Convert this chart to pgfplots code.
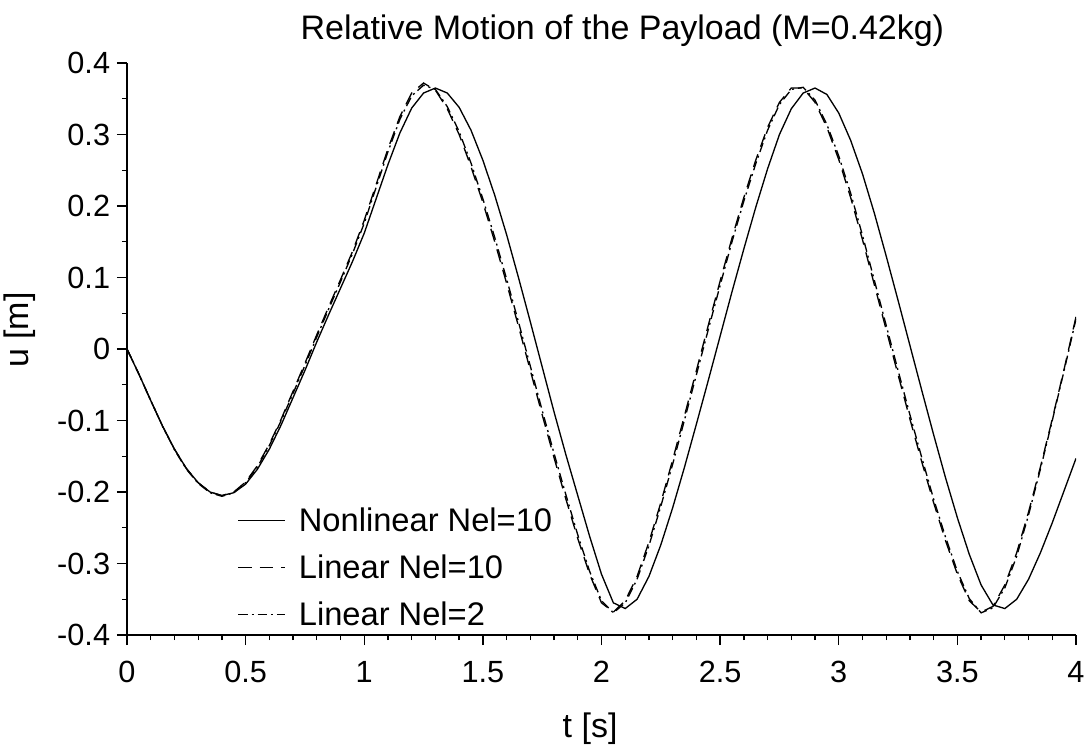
\documentclass[border=0pt]{standalone}
\usepackage{fontspec}
\setmainfont{Liberation Sans}
\usepackage{pgfplots}
\pgfplotsset{compat=1.18}

% nonlinear model, 10 elements
\pgfplotstableread{
t u
0.00 0.000
0.05 -0.035
0.10 -0.072
0.15 -0.108
0.20 -0.140
0.25 -0.167
0.30 -0.187
0.35 -0.200
0.40 -0.205
0.45 -0.201
0.50 -0.189
0.55 -0.168
0.60 -0.140
0.65 -0.106
0.70 -0.068
0.75 -0.030
0.80 0.010
0.85 0.048
0.90 0.085
0.95 0.122
1.00 0.162
1.05 0.210
1.10 0.258
1.15 0.302
1.20 0.337
1.25 0.358
1.30 0.365
1.35 0.358
1.40 0.338
1.45 0.306
1.50 0.264
1.55 0.215
1.60 0.160
1.65 0.100
1.70 0.038
1.75 -0.025
1.80 -0.088
1.85 -0.148
1.90 -0.205
1.95 -0.262
2.00 -0.315
2.05 -0.355
2.10 -0.363
2.15 -0.350
2.20 -0.318
2.25 -0.274
2.30 -0.222
2.35 -0.165
2.40 -0.105
2.45 -0.044
2.50 0.018
2.55 0.080
2.60 0.140
2.65 0.198
2.70 0.252
2.75 0.300
2.80 0.336
2.85 0.358
2.90 0.365
2.95 0.356
3.00 0.330
3.05 0.292
3.10 0.245
3.15 0.190
3.20 0.130
3.25 0.068
3.30 0.005
3.35 -0.058
3.40 -0.120
3.45 -0.180
3.50 -0.236
3.55 -0.287
3.60 -0.330
3.65 -0.358
3.70 -0.363
3.75 -0.350
3.80 -0.322
3.85 -0.285
3.90 -0.243
3.95 -0.198
4.00 -0.153
}\nonlinten

% linear model, 10 elements
\pgfplotstableread{
t u
0.00 0.000
0.05 -0.035
0.10 -0.072
0.15 -0.108
0.20 -0.140
0.25 -0.167
0.30 -0.187
0.35 -0.200
0.40 -0.205
0.45 -0.200
0.50 -0.186
0.55 -0.163
0.60 -0.133
0.65 -0.098
0.70 -0.059
0.75 -0.020
0.80 0.020
0.85 0.059
0.90 0.097
0.95 0.136
1.00 0.180
1.05 0.230
1.10 0.280
1.15 0.325
1.20 0.358
1.25 0.372
1.30 0.362
1.35 0.336
1.40 0.300
1.45 0.255
1.50 0.205
1.55 0.150
1.60 0.092
1.65 0.032
1.70 -0.030
1.75 -0.092
1.80 -0.152
1.85 -0.210
1.90 -0.265
1.95 -0.315
2.00 -0.355
2.05 -0.368
2.10 -0.352
2.15 -0.318
2.20 -0.270
2.25 -0.215
2.30 -0.155
2.35 -0.093
2.40 -0.030
2.45 0.033
2.50 0.095
2.55 0.155
2.60 0.212
2.65 0.264
2.70 0.310
2.75 0.345
2.80 0.365
2.85 0.365
2.90 0.345
2.95 0.310
3.00 0.265
3.05 0.212
3.10 0.153
3.15 0.090
3.20 0.027
3.25 -0.036
3.30 -0.098
3.35 -0.158
3.40 -0.215
3.45 -0.268
3.50 -0.315
3.55 -0.352
3.60 -0.368
3.65 -0.360
3.70 -0.330
3.75 -0.285
3.80 -0.228
3.85 -0.165
3.90 -0.098
3.95 -0.028
4.00 0.045
}\linten

% linear model, 2 elements
\pgfplotstableread{
t u
0.00 0.000
0.05 -0.035
0.10 -0.072
0.15 -0.108
0.20 -0.141
0.25 -0.168
0.30 -0.188
0.35 -0.201
0.40 -0.206
0.45 -0.201
0.50 -0.187
0.55 -0.165
0.60 -0.135
0.65 -0.100
0.70 -0.062
0.75 -0.023
0.80 0.017
0.85 0.056
0.90 0.094
0.95 0.133
1.00 0.176
1.05 0.226
1.10 0.276
1.15 0.321
1.20 0.354
1.25 0.369
1.30 0.363
1.35 0.339
1.40 0.304
1.45 0.260
1.50 0.210
1.55 0.156
1.60 0.098
1.65 0.038
1.70 -0.024
1.75 -0.086
1.80 -0.146
1.85 -0.204
1.90 -0.260
1.95 -0.311
2.00 -0.352
2.05 -0.369
2.10 -0.355
2.15 -0.322
2.20 -0.275
2.25 -0.220
2.30 -0.161
2.35 -0.099
2.40 -0.036
2.45 0.027
2.50 0.089
2.55 0.150
2.60 0.207
2.65 0.259
2.70 0.306
2.75 0.342
2.80 0.363
2.85 0.366
2.90 0.348
2.95 0.314
3.00 0.270
3.05 0.218
3.10 0.159
3.15 0.096
3.20 0.033
3.25 -0.030
3.30 -0.092
3.35 -0.152
3.40 -0.210
3.45 -0.263
3.50 -0.311
3.55 -0.349
3.60 -0.369
3.65 -0.362
3.70 -0.334
3.75 -0.290
3.80 -0.232
3.85 -0.168
3.90 -0.100
3.95 -0.030
4.00 0.042
}\lintwo

\begin{document}
\begin{tikzpicture}
\useasboundingbox (-95.25pt,-87pt) rectangle (721.5pt,476.25pt);
\begin{axis}[
  at={(0,0)}, anchor=south west,
  scale only axis, width=711.75pt, height=429pt,
  xmin=0, xmax=4, ymin=-0.4, ymax=0.4,
  axis x line*=bottom, axis y line*=left,
  axis line style={line width=1.1pt},
  xtick={0,0.5,1,1.5,2,2.5,3,3.5,4},
  ytick={-0.4,-0.3,-0.2,-0.1,0,0.1,0.2,0.3,0.4},
  minor x tick num=4, minor y tick num=1,
  tick align=outside,
  major tick length=7.5pt, minor tick length=3.75pt,
  tick style={line width=1pt, black},
  /pgf/number format/assume math mode=true,
  ticklabel style={font=\fontsize{23}{27}\selectfont},
  xticklabel style={anchor=base, yshift=-28pt, inner sep=0pt},
  yticklabel style={anchor=east, inner sep=0pt, xshift=-5pt},
  title={Relative Motion of the Payload (M=0.42kg)},
  title style={at={(0.522,1)}, anchor=base, yshift=12pt, font=\fontsize{25.5}{30}\selectfont},
  xlabel={t [s]},
  xlabel style={at={(axis description cs:0.488,-0.1795)}, anchor=base, font=\fontsize{25.5}{30}\selectfont},
  legend style={draw=none, fill=none, at={(axis description cs:0.112,0.118)}, anchor=west,
    font=\fontsize{24.5}{29}\selectfont, row sep=14pt,
    nodes={inner sep=1pt}},
  legend cell align=left,
  /tikz/every odd column/.append style={column sep=9pt},
  legend image code/.code={\draw[#1] (0pt,0pt) -- (35pt,0pt);},
  every axis plot/.append style={black, line width=1pt},
]
\addplot[solid] table[x=t, y=u] {\nonlinten};
\addplot[dash pattern=on 10pt off 6pt] table[x=t, y=u] {\linten};
\addplot[dash pattern=on 7pt off 3pt on 1.5pt off 3pt] table[x=t, y=u] {\lintwo};
\legend{Nonlinear Nel=10, Linear Nel=10, Linear Nel=2}
\end{axis}
% y axis label
\node[rotate=90, anchor=center, font=\fontsize{25.5}{30}\selectfont] at (-80.4pt,228.7pt) {u [m]};
\end{tikzpicture}
\end{document}
